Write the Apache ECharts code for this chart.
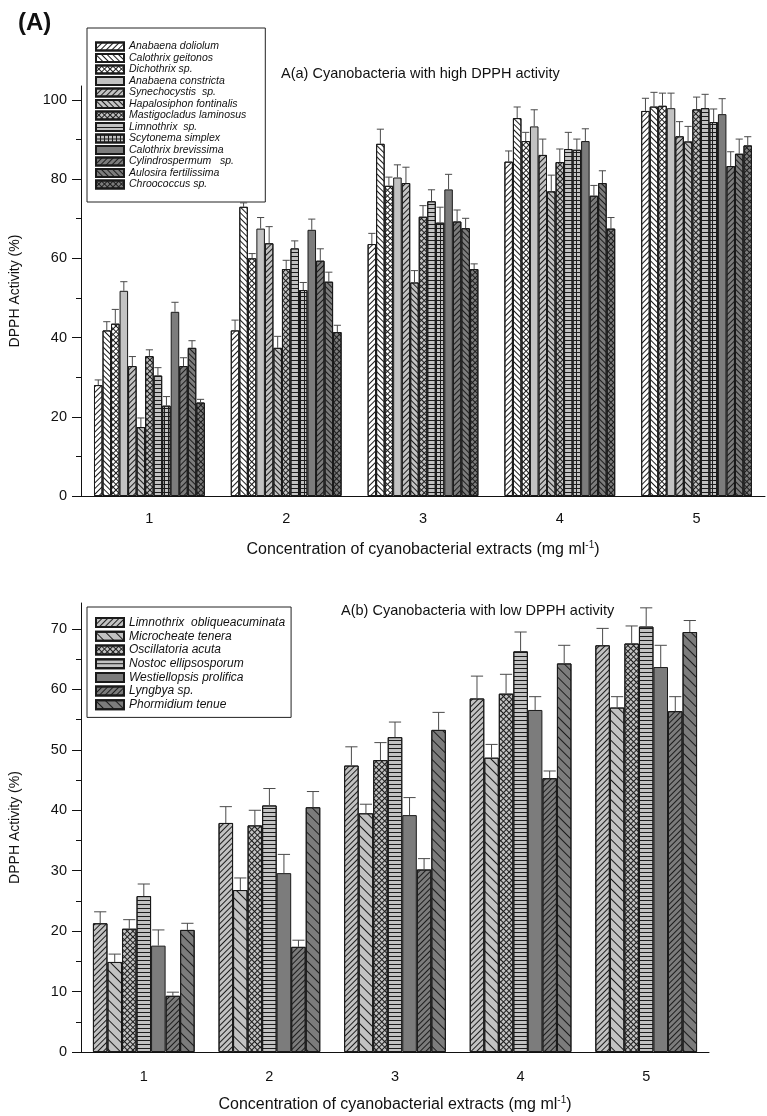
<!DOCTYPE html>
<html>
<head>
<meta charset="utf-8">
<script src="https://cdn.jsdelivr.net/npm/echarts@6/dist/echarts.min.js"></script>
<style>
  html, body { margin: 0; padding: 0; background: #fff; }
  #chart { width: 767px; height: 1116px; }
</style>
</head>
<body>
<div id="chart"></div>
<script>
  // 横坐标: 提取物浓度 (mg/ml)
  var concentrations = ['1', '2', '3', '4', '5']

  // A(a) 高 DPPH 活性
  var highNames = ['Anabaena doliolum', 'Calothrix geitonos', 'Dichothrix sp.', 'Anabaena constricta',
    'Synechocystis  sp.', 'Hapalosiphon fontinalis', 'Mastigocladus laminosus', 'Limnothrix  sp.',
    'Scytonema simplex', 'Calothrix brevissima', 'Cylindrospermum   sp.', 'Aulosira fertilissima', 'Chroococcus sp.']
  var highMeans = [
    [28.0, 41.8, 63.6, 84.4, 97.2],
    [41.8, 73.0, 88.9, 95.4, 98.3],
    [43.5, 60.0, 78.3, 89.6, 98.5],
    [51.8, 67.5, 80.4, 93.3, 97.9],
    [32.8, 63.8, 79.0, 86.1, 90.8],
    [17.4, 37.4, 53.9, 76.9, 89.5],
    [35.3, 57.3, 70.5, 84.3, 97.6],
    [30.4, 62.5, 74.4, 87.6, 97.9],
    [22.8, 52.0, 69.0, 87.4, 94.4],
    [46.5, 67.2, 77.4, 89.6, 96.4],
    [32.8, 59.4, 69.3, 75.8, 83.3],
    [37.4, 54.1, 67.6, 79.0, 86.4],
    [23.6, 41.4, 57.3, 67.5, 88.5]
  ]
  var highErrors = [
    [1.3, 2.6, 2.7, 2.7, 3.2],
    [2.2, 1.0, 3.7, 2.8, 3.6],
    [3.6, 1.2, 2.2, 2.2, 3.2],
    [2.3, 2.8, 3.2, 4.2, 3.8],
    [2.4, 4.2, 4.0, 4.0, 3.7],
    [2.3, 2.9, 3.0, 4.1, 3.8],
    [1.6, 2.2, 2.8, 3.3, 3.1],
    [2.0, 1.9, 2.9, 4.2, 3.5],
    [2.3, 1.9, 3.9, 2.7, 3.3],
    [2.4, 2.7, 3.8, 3.1, 3.9],
    [2.1, 3.0, 2.9, 2.6, 3.6],
    [1.8, 2.4, 2.5, 3.1, 3.7],
    [0.8, 1.7, 1.3, 2.8, 2.2]
  ]

  // A(b) 低 DPPH 活性
  var lowNames = ['Limnothrix  obliqueacuminata', 'Microcheate tenera', 'Oscillatoria acuta',
    'Nostoc ellipsosporum', 'Westiellopsis prolifica', 'Lyngbya sp.', 'Phormidium tenue']
  var lowMeans = [
    [21.3, 37.9, 47.4, 58.5, 67.3],
    [14.9, 26.8, 39.5, 48.7, 57.0],
    [20.4, 37.5, 48.3, 59.3, 67.6],
    [25.8, 40.8, 52.1, 66.3, 70.4],
    [17.6, 29.6, 39.2, 56.6, 63.7],
    [9.3, 17.4, 30.2, 45.3, 56.4],
    [20.2, 40.5, 53.3, 64.3, 69.5]
  ]
  var lowErrors = [
    [1.9, 2.7, 3.1, 3.7, 2.8],
    [1.3, 2.0, 1.5, 2.2, 1.8],
    [1.5, 2.5, 2.9, 3.2, 2.9],
    [2.0, 2.8, 2.5, 3.2, 3.1],
    [2.6, 3.1, 2.9, 2.2, 3.6],
    [0.6, 1.1, 1.8, 1.2, 2.4],
    [1.1, 2.6, 2.9, 3.0, 1.9]
  ]

  // 刻度
  var highTicks = [0, 20, 40, 60, 80, 100]
  var highMinorTicks = [10, 30, 50, 70, 90]
  var lowTicks = [0, 10, 20, 30, 40, 50, 60, 70]
  var lowMinorTicks = [5, 15, 25, 35, 45, 55, 65]

  // 样式
  var WHITE = '#ffffff'
  var LIGHT = '#c2c2c2'
  var DARK = '#7c7c7c'
  var FONT = '"Liberation Sans", Arial, sans-serif'
  var GAP = 0.19
  var Q = Math.PI / 4

  function lines (rot, gap) {
    return { symbol: 'rect', symbolSize: 1, dashArrayX: [1, 0], dashArrayY: [1, gap], rotation: rot, color: '#1c1c1c' }
  }
  function mesh (rot, size) {
    return { symbol: 'path://M0 0H4V1H1V4H0Z', symbolSize: 1, dashArrayX: [size, 0], dashArrayY: [size, 0], rotation: rot, color: '#1c1c1c' }
  }
  var PAT = {
    none: null,
    fwd: lines(-Q, 3),
    back: lines(Q, 3),
    cross: mesh(Q, 4),
    horiz: lines(0, 3),
    grid: mesh(0, 4),
    backWide: lines(Q, 6)
  }
  var highLook = [
    [WHITE, 'fwd'], [WHITE, 'back'], [WHITE, 'cross'], [LIGHT, 'none'], [LIGHT, 'fwd'], [LIGHT, 'back'],
    [LIGHT, 'cross'], [LIGHT, 'horiz'], [LIGHT, 'grid'], [DARK, 'none'], [DARK, 'fwd'], [DARK, 'back'], [DARK, 'cross']
  ]
  var lowLook = [
    [LIGHT, 'fwd'], [LIGHT, 'backWide'], [LIGHT, 'cross'], [LIGHT, 'horiz'], [DARK, 'none'], [DARK, 'fwd'], [DARK, 'backWide']
  ]

  // gridIndex 0 / 1, 每个 grid 有两条 x 轴和两条 y 轴
  function barSeries (names, means, look, gridIndex) {
    return names.map(function (name, k) {
      var item = {
        color: look[k][0],
        borderColor: '#1a1a1a',
        borderWidth: 1
      }
      if (PAT[look[k][1]]) item.decal = PAT[look[k][1]]
      return {
        name: name,
        type: 'bar',
        xAxisIndex: gridIndex * 2,
        yAxisIndex: gridIndex * 2,
        barGap: '0%',
        barCategoryGap: (GAP * 100) + '%',
        itemStyle: item,
        emphasis: { disabled: true },
        data: means[k]
      }
    })
  }

  // 误差线
  function errorSeries (means, errors, gridIndex) {
    var n = means.length
    var data = []
    means.forEach(function (row, k) {
      row.forEach(function (v, i) {
        data.push([i, k, v, errors[k][i]])
      })
    })
    return {
      type: 'custom',
      xAxisIndex: gridIndex * 2,
      yAxisIndex: gridIndex * 2,
      z: 5,
      silent: true,
      encode: { x: 0, y: 2 },
      data: data,
      renderItem: function (params, api) {
        var cat = api.value(0)
        var k = api.value(1)
        var v = api.value(2)
        var e = api.value(3)
        var groupW = api.size([1, 0])[0] * (1 - GAP)
        var bw = groupW / n
        var base = api.coord([cat, v])
        var top = api.coord([cat, v + e])[1]
        var x = base[0] - groupW / 2 + (k + 0.5) * bw
        var half = bw * 0.42
        var st = { stroke: '#4a4a4a', lineWidth: 1 }
        return {
          type: 'group',
          children: [
            { type: 'line', shape: { x1: x, y1: base[1], x2: x, y2: top }, style: st },
            { type: 'line', shape: { x1: x - half, y1: top, x2: x + half, y2: top }, style: st }
          ]
        }
      }
    }
  }

  var axisText = { color: '#111', fontFamily: FONT, fontSize: 14.5 }
  var blackLine = { lineStyle: { color: '#111', width: 1 } }

  function xAxes (gridIndex, nameGap, labelMargin) {
    return [{
      type: 'category',
      gridIndex: gridIndex,
      data: concentrations,
      boundaryGap: true,
      axisLine: blackLine,
      axisTick: { alignWithLabel: true, length: 8, lineStyle: { color: '#111' } },
      axisLabel: Object.assign({ margin: labelMargin }, axisText),
      name: 'Concentration of cyanobacterial extracts (mg ml{sup|-1})',
      nameLocation: 'middle',
      nameGap: nameGap,
      nameTextStyle: {
        color: '#111', fontFamily: FONT, fontSize: 16,
        rich: { sup: { fontFamily: FONT, fontSize: 10, color: '#111', padding: [0, 0, 10, 0] } }
      }
    }, {
      type: 'category',
      gridIndex: gridIndex,
      data: concentrations,
      boundaryGap: true,
      axisLine: { show: false },
      axisTick: { length: 4, lineStyle: { color: '#111' } },
      axisLabel: { show: false }
    }]
  }

  function yAxes (gridIndex, max, ticks, minor) {
    return [{
      type: 'value',
      gridIndex: gridIndex,
      position: 'left',
      min: 0,
      max: max,
      axisLine: Object.assign({ show: true }, blackLine),
      axisTick: { show: true, length: 9, customValues: ticks, lineStyle: { color: '#111' } },
      axisLabel: Object.assign({ margin: 14, customValues: ticks }, axisText),
      splitLine: { show: false },
      name: 'DPPH Activity (%)',
      nameLocation: 'middle',
      nameGap: 59,
      nameTextStyle: { color: '#111', fontFamily: FONT, fontSize: 14 }
    }, {
      type: 'value',
      gridIndex: gridIndex,
      position: 'left',
      offset: 0,
      min: 0,
      max: max,
      axisLine: { show: false },
      axisTick: { show: true, length: 5, customValues: minor, lineStyle: { color: '#111' } },
      axisLabel: { show: false },
      splitLine: { show: false }
    }]
  }

  function legendBox (names, top, fontSize, itemHeight, lineHeight, padding) {
    return {
      data: names,
      orient: 'vertical',
      left: 87,
      top: top,
      icon: 'rect',
      itemWidth: 28,
      itemHeight: itemHeight,
      itemGap: 0.5,
      padding: padding,
      borderColor: '#222',
      borderWidth: 1,
      selectedMode: false,
      textStyle: { fontFamily: FONT, fontStyle: 'italic', fontSize: fontSize, color: '#111', lineHeight: lineHeight }
    }
  }

  var chart = echarts.init(document.getElementById('chart'), null, { renderer: 'canvas' })
  chart.setOption({
    animation: false,
    backgroundColor: '#fff',
    title: [
      { text: '(A)', left: 13, top: 6, textStyle: { fontFamily: FONT, fontWeight: 'bold', fontSize: 24, color: '#111' } },
      { text: 'A(a) Cyanobacteria with high DPPH activity', left: 276, top: 61, textStyle: { fontFamily: FONT, fontWeight: 'normal', fontSize: 14.5, color: '#111' } },
      { text: 'A(b) Cyanobacteria with low DPPH activity', left: 336, top: 598, textStyle: { fontFamily: FONT, fontWeight: 'normal', fontSize: 14.5, color: '#111' } }
    ],
    legend: [
      legendBox(highNames, 28, 10.5, 8, 11, [13, 19, 12, 8]),
      legendBox(lowNames, 607, 12, 9, 13.2, [9, 6, 6, 8])
    ],
    grid: [
      { left: 80, right: 2, top: 86, bottom: 620 },
      { left: 81, right: 58, top: 603, bottom: 64 }
    ],
    xAxis: xAxes(0, 44, 15).concat(xAxes(1, 43, 17)),
    yAxis: yAxes(0, 103.5, highTicks, highMinorTicks).concat(yAxes(1, 74.3, lowTicks, lowMinorTicks)),
    series: barSeries(highNames, highMeans, highLook, 0)
      .concat([errorSeries(highMeans, highErrors, 0)])
      .concat(barSeries(lowNames, lowMeans, lowLook, 1))
      .concat([errorSeries(lowMeans, lowErrors, 1)])
  })
</script>
</body>
</html>
